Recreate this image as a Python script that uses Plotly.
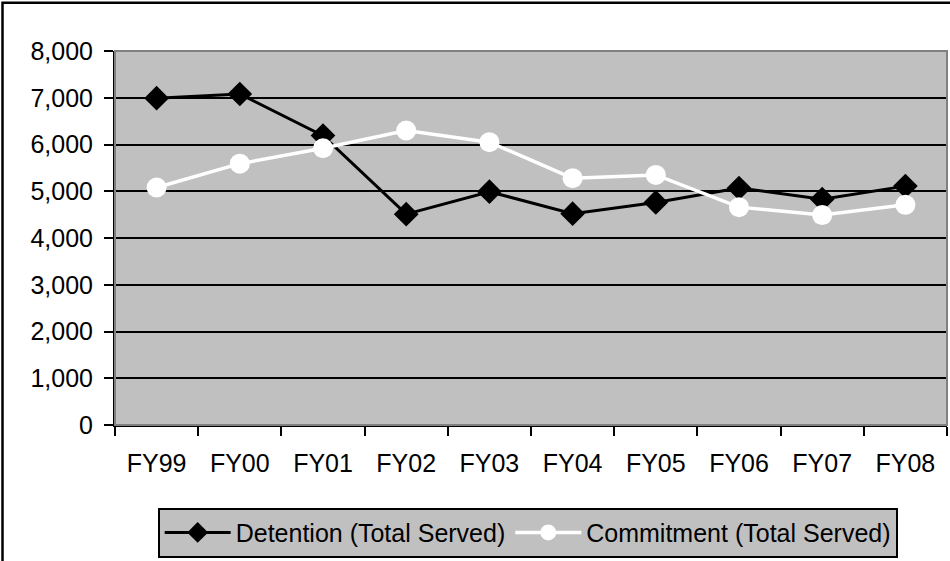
import plotly.graph_objects as go

years = ["FY99", "FY00", "FY01", "FY02", "FY03", "FY04", "FY05", "FY06", "FY07", "FY08"]
detention = [6990, 7080, 6190, 4510, 4990, 4520, 4760, 5070, 4830, 5110]
commitment = [5080, 5590, 5920, 6300, 6050, 5280, 5350, 4660, 4490, 4710]
y_ticks = [0, 1000, 2000, 3000, 4000, 5000, 6000, 7000, 8000]

FONT = "Liberation Sans, Arial, sans-serif"

L, T, PW, PH = 115, 51, 832, 376
W, H = 950, 561

fig = go.Figure()

fig.add_trace(go.Scatter(
    x=years, y=detention,
    name="Detention (Total Served)",
    mode="lines+markers",
    line=dict(color="black", width=3),
    marker=dict(symbol="diamond", size=19, color="black"),
))

fig.add_trace(go.Scatter(
    x=years, y=commitment,
    name="Commitment (Total Served)",
    mode="lines+markers",
    line=dict(color="white", width=3.5),
    marker=dict(symbol="circle", size=20, color="white"),
))

# outer chart border (runs off the right and bottom of the picture)
fig.add_shape(type="rect", xref="paper", yref="paper",
              x0=(2.5 - L) / PW, x1=1.2, y0=-0.6, y1=1 + (T - 2.5) / PH,
              line=dict(color="black", width=2.5), layer="below")
# grey plot-area frame, covers the top gridline
fig.add_shape(type="rect", xref="paper", yref="paper",
              x0=0, x1=1, y0=0, y1=1,
              line=dict(color="#808080", width=2), layer="above")

fig.update_layout(
    width=W, height=H,
    margin=dict(l=L, r=W - L - PW, t=T, b=H - T - PH),
    paper_bgcolor="white",
    plot_bgcolor="#C0C0C0",
    font=dict(family=FONT, size=25, color="black"),
    showlegend=True,
    legend=dict(
        orientation="h",
        x=0.496, xanchor="center",
        y=-0.221, yanchor="top",
        bgcolor="#C0C0C0",
        bordercolor="black", borderwidth=2,
        font=dict(family=FONT, size=25, color="black"),
        itemwidth=66,
    ),
    xaxis=dict(
        type="category",
        tickson="boundaries",
        ticks="outside", ticklen=9, tickwidth=2, tickcolor="black",
        showline=True, linecolor="black", linewidth=2,
        showgrid=False,
        ticklabelstandoff=15,
        range=[-0.5, len(years) - 0.5],
    ),
    yaxis=dict(
        range=[0, 8000],
        tickvals=y_ticks,
        tickformat=",",
        ticks="outside", ticklen=9, tickwidth=2, tickcolor="black",
        showline=True, linecolor="black", linewidth=2,
        showgrid=True, gridcolor="black", gridwidth=2,
        zeroline=False,
        ticklabelstandoff=6,
    ),
)

fig.write_html("out.html", config={"displayModeBar": False},
               post_script="document.body.style.margin='0';")
